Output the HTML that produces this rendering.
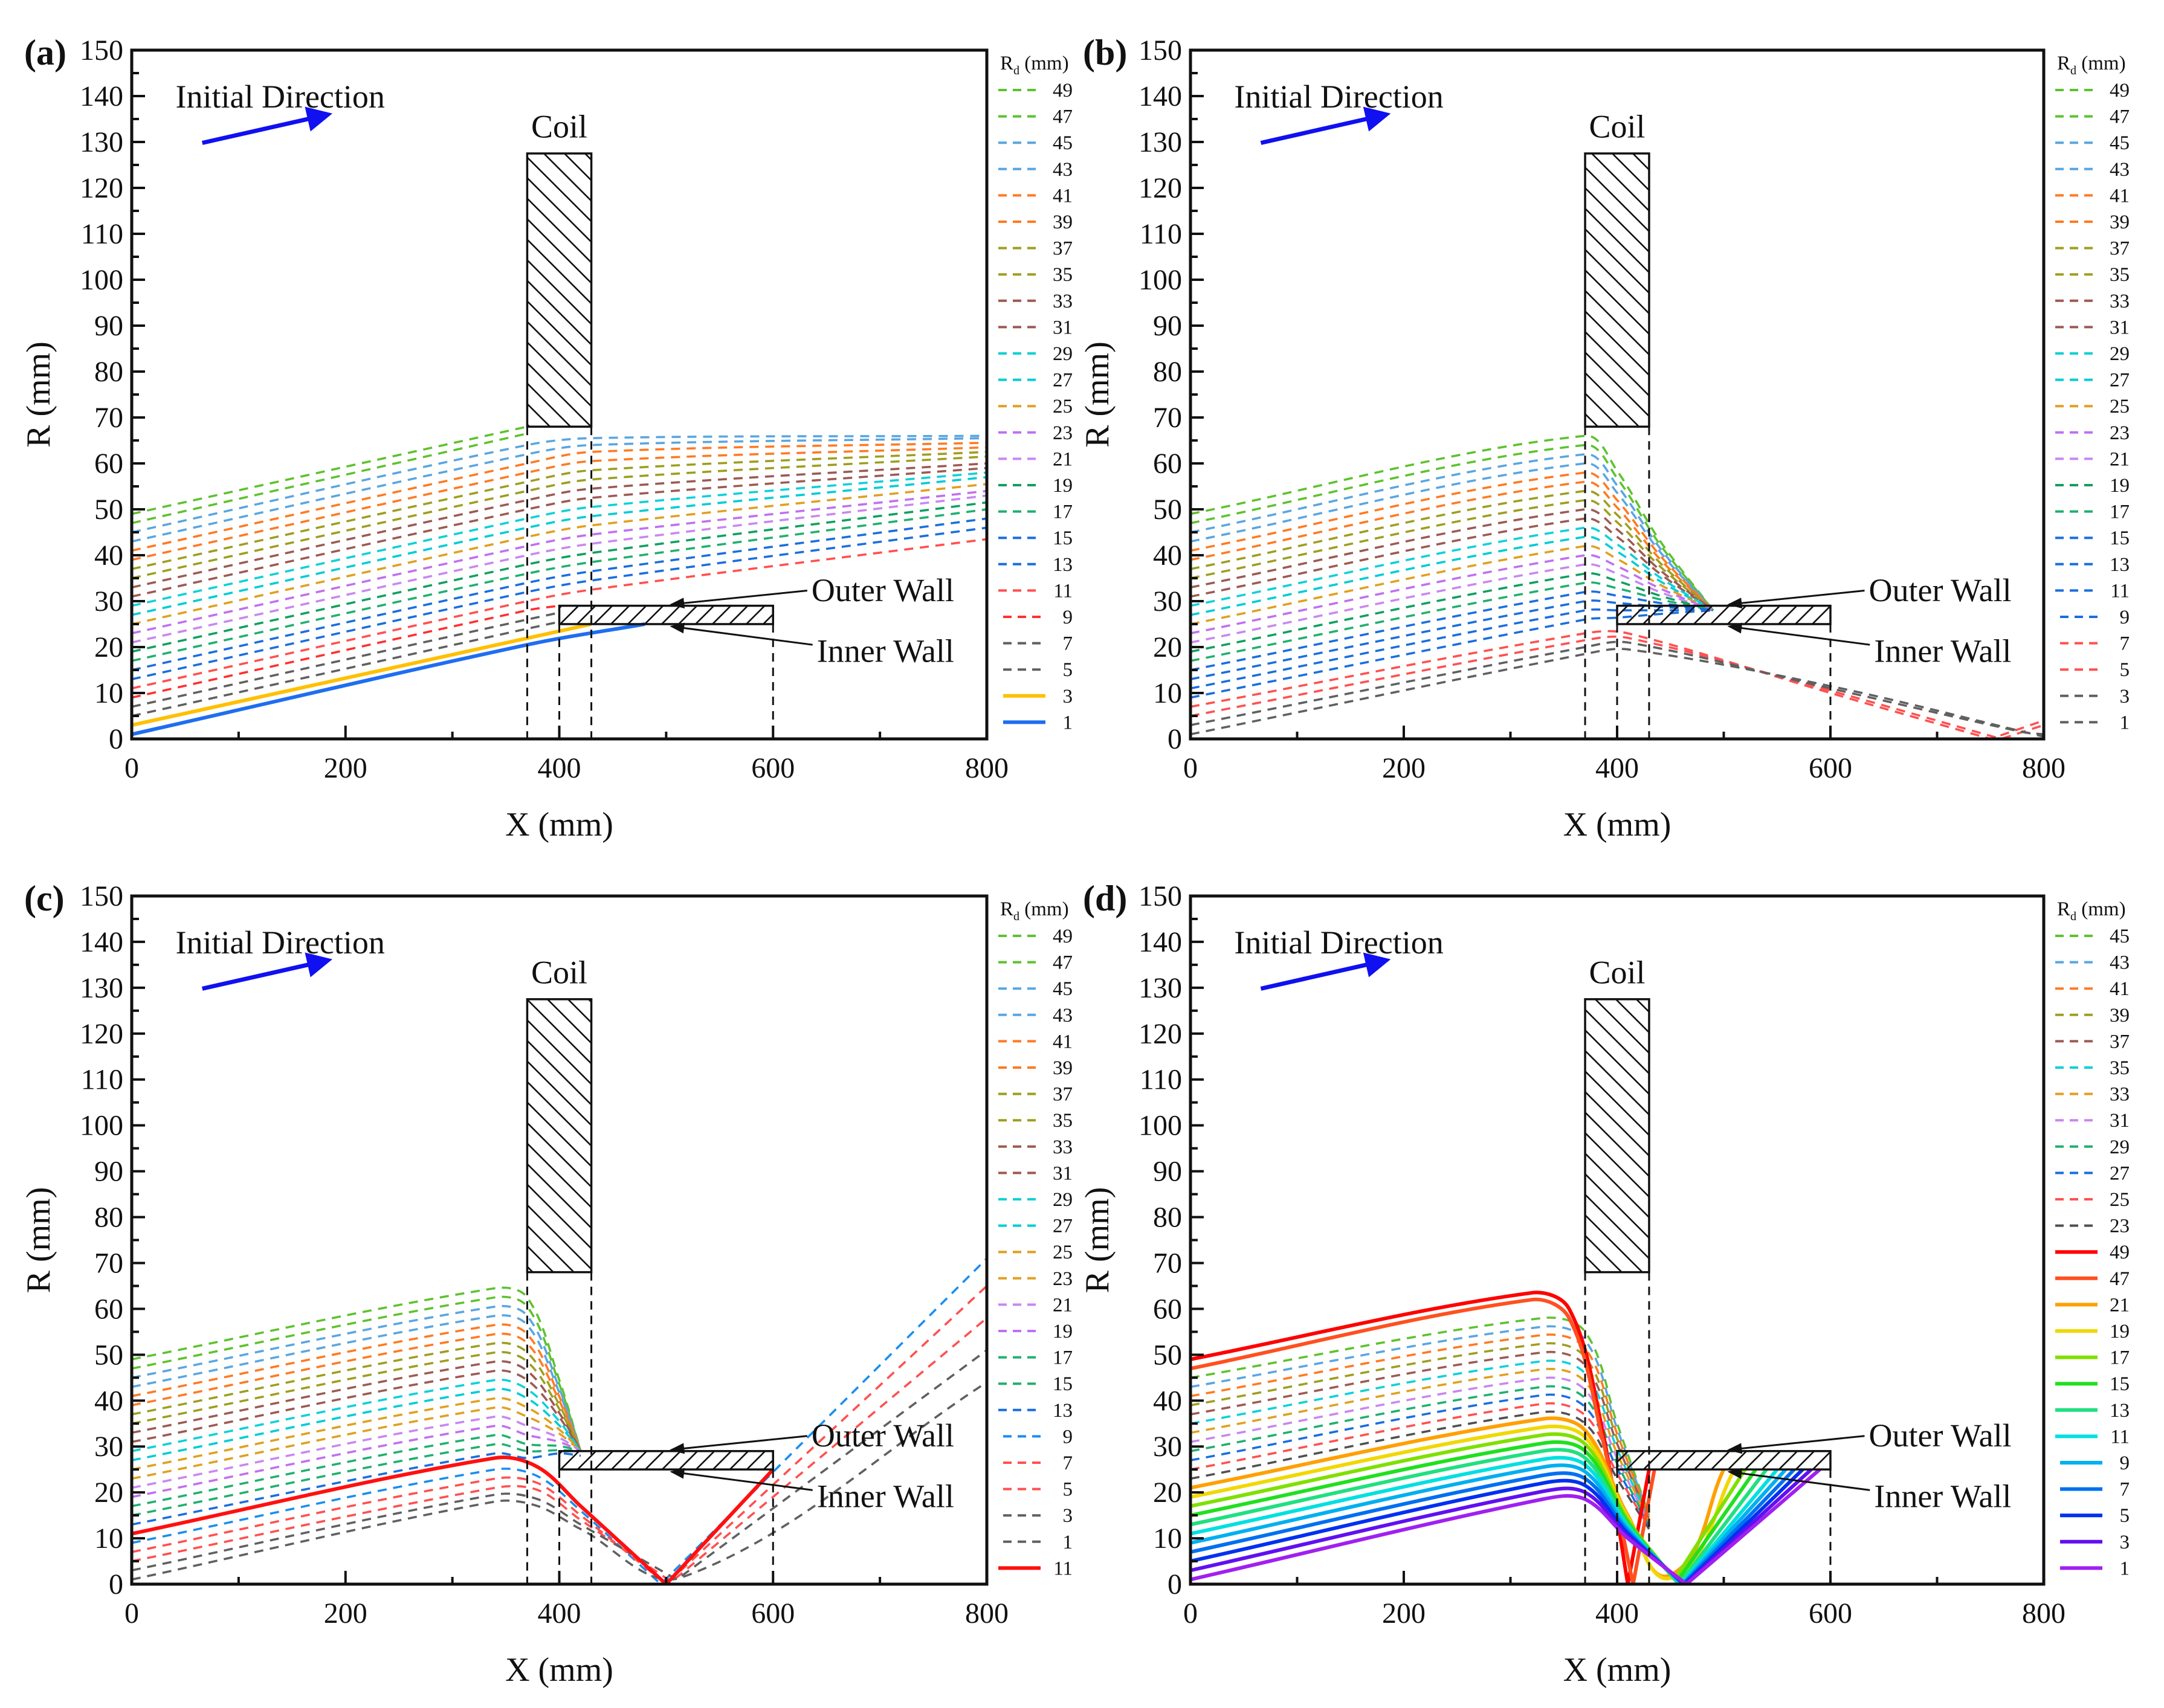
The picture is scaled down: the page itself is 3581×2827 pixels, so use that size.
<!DOCTYPE html>
<html><head><meta charset="utf-8"><style>
html,body{margin:0;padding:0;background:#fff}
svg{display:block}
svg text{font-family:"Liberation Serif","DejaVu Serif",serif;fill:#111}
</style></head><body>
<svg id="root" width="3581" height="2827" viewBox="0 0 3581 2827" xmlns="http://www.w3.org/2000/svg" font-family="Liberation Serif, DejaVu Serif, serif">
<defs>
<pattern id="hatchCoil" patternUnits="userSpaceOnUse" width="34" height="34"><path d="M-5,-5 L39,39 M-5,29 L5,39 M29,-5 L39,5" stroke="#111" stroke-width="2.6"/></pattern>
<pattern id="hatchWall" patternUnits="userSpaceOnUse" width="28" height="28"><path d="M-5,33 L33,-5 M-5,5 L5,-5 M23,33 L33,23" stroke="#111" stroke-width="2.6"/></pattern>
<marker id="ahBlue" markerWidth="6" markerHeight="6" refX="4" refY="3" orient="auto" markerUnits="strokeWidth"><path d="M0,0 L6,3 L0,6 Z" fill="#1010f0"/></marker>
<marker id="ahBlack" markerWidth="8" markerHeight="6" refX="7" refY="3" orient="auto" markerUnits="strokeWidth"><path d="M0,0 L8,3 L0,6 Z" fill="#111"/></marker>
</defs>
</svg>
<script>
// ---------- data ----------
const xTicks=[0,200,400,600,800];
const yTicks=[0,10,20,30,40,50,60,70,80,90,100,110,120,130,140,150];

const aRd=[49,47,45,43,41,39,37,35,33,31,29,27,25,23,21,19,17,15,13,11,9,7,5,3,1];
const aPts=[
[[0,49],[370,68]],
[[0,47],[370,66.5]],
[[0,45],[370,64],[430,65.5],[800,66]],
[[0,43],[370,62],[430,64],[800,65.5]],
[[0,41],[370,60],[430,62.5],[800,64.5]],
[[0,39],[370,58],[430,60.5],[800,63.5]],
[[0,37],[370,56],[430,58.5],[800,62.5]],
[[0,35],[370,54],[430,56.5],[800,61.5]],
[[0,33],[370,52],[430,54.5],[800,60]],
[[0,31],[370,50],[430,52.5],[800,59]],
[[0,29],[370,48],[430,50.5],[800,58]],
[[0,27],[370,46],[430,48.5],[800,57]],
[[0,25],[370,44],[430,46.5],[800,55.5]],
[[0,23],[370,42],[430,44.5],[800,54]],
[[0,21],[370,40],[430,42.5],[800,53]],
[[0,19],[370,38],[430,40.5],[800,51.5]],
[[0,17],[370,36],[430,38.5],[800,50]],
[[0,15],[370,34],[430,36.5],[800,48]],
[[0,13],[370,32],[430,34.5],[800,46]],
[[0,11],[370,30],[430,32.5],[800,43.5]],
[[0,9],[370,28],[400,29]],
[[0,7],[370,26],[400,27.5]],
[[0,5],[370,24],[400,25.5]],
[[0,3],[430,25]],
[[0,1],[370,20.5],[480,25]]
];
const aColors=["#5ec22e","#5ec22e","#5aa6e0","#5aa6e0","#ff7a22","#ff7a22","#9e9e20","#9e9e20","#9c5a54","#9c5a54","#10d0d8","#00ccd4","#e0a020","#c070f0","#c888f0","#10a060","#20b070","#1a6ee0","#1a6ee0","#ff5050","#ff3030","#606060","#606060","#ffc000","#1e6ef0"];
const aSolid=[0,0,0,0,0,0,0,0,0,0,0,0,0,0,0,0,0,0,0,0,0,0,0,1,1];

const bRd=[49,47,45,43,41,39,37,35,33,31,29,27,25,23,21,19,17,15,13,11,9,7,5,3,1];
const bPts=[
[[0,49],[370,66],[400,58.4],[440,43.2],[490,28]],
[[0,47],[370,64],[400,56.8],[440,42.4],[490,28]],
[[0,45],[370,62],[400,55.2],[440,41.6],[490,28]],
[[0,43],[370,60],[400,53.6],[440,40.8],[490,28]],
[[0,41],[370,58],[400,52],[440,40],[490,28]],
[[0,39],[370,56],[400,50.4],[440,39.2],[490,28]],
[[0,37],[370,54],[400,48.8],[440,38.4],[490,28]],
[[0,35],[370,52],[400,47.2],[440,37.6],[490,28]],
[[0,33],[370,50],[400,45.6],[440,36.8],[490,28]],
[[0,31],[370,48],[400,44],[440,36],[490,28]],
[[0,29],[370,46],[400,42.4],[440,35.2],[490,28]],
[[0,27],[370,44],[400,40.8],[440,34.4],[490,28]],
[[0,25],[370,42],[400,39.2],[440,33.6],[490,28]],
[[0,23],[370,40],[400,37.6],[440,32.8],[490,28]],
[[0,21],[370,38],[400,36],[440,32],[490,28]],
[[0,19],[370,36],[400,34.4],[440,31.2],[490,28]],
[[0,17],[370,34],[400,32.8],[440,30.4],[490,28]],
[[0,15],[370,32],[400,31.2],[440,29.6],[490,28]],
[[0,13],[370,30],[400,29.6],[440,28.8],[490,28]],
[[0,11],[370,28],[400,28],[440,28],[490,28]],
[[0,9],[370,26],[400,26.4],[440,27.2],[490,28]],
[[0,7],[370,23],[410,23],[600,10],[750,0],[800,4]],
[[0,5],[370,21.5],[410,22],[600,10.5],[760,0],[800,3]],
[[0,3],[370,20],[410,21],[600,11],[780,1.5],[800,1]],
[[0,1],[370,18.5],[410,19.5],[600,11.5],[800,0.5]]
];
const bColors=["#5ec22e","#5ec22e","#5aa6e0","#5aa6e0","#ff7a22","#ff7a22","#9e9e20","#9e9e20","#9c5a54","#9c5a54","#10d0d8","#00ccd4","#e0a020","#c070f0","#c888f0","#10a060","#20b070","#1a6ee0","#1a6ee0","#1a6ee0","#1a6ee0","#ff5050","#ff5050","#606060","#606060"];
const bSolid=new Array(25).fill(0);

const cRd=[49,47,45,43,41,39,37,35,33,31,29,27,25,23,21,19,17,15,13,9,7,5,3,1,11];
const cPts=[
[[0,49],[340,64.5],[370,62.5],[400,44.5],[420,29]],
[[0,47],[340,62.5],[370,60.5],[400,43.6],[420,29]],
[[0,45],[340,60.5],[370,58.5],[400,42.7],[420,29]],
[[0,43],[340,58.5],[370,56.5],[400,41.8],[420,29]],
[[0,41],[340,56.5],[370,54.5],[400,40.9],[420,29]],
[[0,39],[340,54.5],[370,52.5],[400,40],[420,29]],
[[0,37],[340,52.5],[370,50.5],[400,39.1],[420,29]],
[[0,35],[340,50.5],[370,48.5],[400,38.2],[420,29]],
[[0,33],[340,48.5],[370,46.5],[400,37.3],[420,29]],
[[0,31],[340,46.5],[370,44.5],[400,36.4],[420,29]],
[[0,29],[340,44.5],[370,42.5],[400,35.5],[420,29]],
[[0,27],[340,42.5],[370,40.5],[400,34.6],[420,29]],
[[0,25],[340,40.5],[370,38.5],[400,33.7],[420,29]],
[[0,23],[340,38.5],[370,36.5],[400,32.8],[420,29]],
[[0,21],[340,36.5],[370,34.5],[400,31.9],[420,29]],
[[0,19],[340,34.5],[370,32.5],[400,31],[420,29]],
[[0,17],[340,32.5],[370,30.5],[400,30.1],[420,29]],
[[0,15],[340,30.5],[370,29],[400,29.2],[420,29]],
[[0,13],[340,28.5],[370,27.5],[400,28.5],[420,28]],
[[0,9],[340,25],[380,23.5],[420,16],[495,0],[800,71]],
[[0,7],[340,23],[380,22],[420,15],[500,0],[800,65]],
[[0,5],[340,21],[380,20.5],[420,14],[505,0.5],[800,58]],
[[0,3],[340,19.5],[380,18.5],[420,13],[510,1],[800,51]],
[[0,1],[340,18],[380,17],[420,12],[515,1.5],[800,44]],
[[0,11],[340,27.5],[380,25.5],[420,17],[500,0],[600,25]]
];
const cColors=["#5ec22e","#5ec22e","#5aa6e0","#5aa6e0","#ff7a22","#ff7a22","#9e9e20","#9e9e20","#9c5a54","#9c5a54","#10d0d8","#00ccd4","#e0a020","#e0a020","#c888f0","#c070f0","#20b070","#20b070","#1a6ee0","#1a8ef0","#ff5050","#ff5050","#606060","#606060","#ff1010"];
const cSolid=[0,0,0,0,0,0,0,0,0,0,0,0,0,0,0,0,0,0,0,0,0,0,0,0,1];

const dRd=[45,43,41,39,37,35,33,31,29,27,25,23,49,47,21,19,17,15,13,11,9,7,5,3,1];
const dPts=[
[[0,45],[330,58],[370,55],[400,35],[430,15]],
[[0,43],[330,56.1],[370,53.2],[400,33.9],[430,14.7]],
[[0,41],[330,54.3],[370,51.4],[400,32.8],[430,14.5]],
[[0,39],[330,52.4],[370,49.5],[400,31.7],[430,14.2]],
[[0,37],[330,50.5],[370,47.7],[400,30.6],[430,13.9]],
[[0,35],[330,48.6],[370,45.9],[400,29.5],[430,13.6]],
[[0,33],[330,46.8],[370,44.1],[400,28.5],[430,13.4]],
[[0,31],[330,44.9],[370,42.3],[400,27.4],[430,13.1]],
[[0,29],[330,43],[370,40.5],[400,26.3],[430,12.8]],
[[0,27],[330,41.2],[370,38.6],[400,25.2],[430,12.5]],
[[0,25],[330,39.3],[370,36.8],[400,24.1],[430,12.3]],
[[0,23],[330,37.5],[370,35],[400,23],[430,12]],
[[0,49],[320,63.5],[355,60],[385,35],[410,0],[430,25]],
[[0,47],[320,62],[355,58],[385,33],[415,0],[435,25]],
[[0,21],[330,36],[370,33.5],[410,15],[450,2],[500,25]],
[[0,19],[330,34.2],[370,32],[410,14.5],[452,1.5],[510,25]],
[[0,17],[330,32.5],[370,30.5],[410,14],[454,1],[520,25]],
[[0,15],[330,30.7],[370,29],[410,13.5],[456,0.5],[530,25]],
[[0,13],[330,29],[370,27.5],[410,13],[458,0],[540,25]],
[[0,11],[330,27.2],[370,26],[410,12.5],[460,0],[550,25]],
[[0,9],[330,25.5],[370,24.5],[410,12],[461,0],[558,25]],
[[0,7],[330,23.7],[370,23],[410,11.5],[462,0],[566,25]],
[[0,5],[330,22],[370,21.5],[410,11],[463,0],[574,25]],
[[0,3],[330,20.2],[370,20],[410,10.5],[464,0],[582,25]],
[[0,1],[330,18.5],[370,18.5],[410,10],[465,0],[590,25]]
];
const dColors=["#5ec22e","#5aa6e0","#ff7a22","#9e9e20","#9c5a54","#10d0d8","#e0a020","#c888f0","#20b070","#1a6ee0","#ff5050","#505050","#ff0000","#ff5020","#ffa000","#f0d800","#80e000","#20e020","#20e080","#00e0e0","#00b0f0","#0070f0","#0030f0","#6010f0","#a020f0"];
const dSolid=[0,0,0,0,0,0,0,0,0,0,0,0,1,1,1,1,1,1,1,1,1,1,1,1,1];

// ---------- rendering ----------
const NS="http://www.w3.org/2000/svg";
const root=document.getElementById('root');
const FONT="Liberation Serif, DejaVu Serif, serif";
function mk(tag,attrs,parent){const e=document.createElementNS(NS,tag);for(const k in attrs)e.setAttribute(k,attrs[k]);if(tag==='text')e.setAttribute('font-family',FONT);(parent||root).appendChild(e);return e;}

// smooth path: tangent direction from neighbours, handle length = 1/3 of segment; sharp at bounce points
function smoothPath(P,vals){
  const n=P.length;
  const dirs=P.map((p,i)=>{
    if(i===0||i===n-1||vals[i]<=1) return null;
    const dx=P[i+1][0]-P[i-1][0],dy=P[i+1][1]-P[i-1][1];const L=Math.hypot(dx,dy)||1;return [dx/L,dy/L];
  });
  let d='M'+P[0][0].toFixed(1)+','+P[0][1].toFixed(1);
  for(let i=0;i<n-1;i++){
    const p1=P[i],p2=P[i+1];
    const sl=Math.hypot(p2[0]-p1[0],p2[1]-p1[1])/3;
    const u=[(p2[0]-p1[0])/(3*sl||1),(p2[1]-p1[1])/(3*sl||1)];
    const d1=dirs[i]||u,d2=dirs[i+1]||u;
    const c1=[p1[0]+d1[0]*sl,p1[1]+d1[1]*sl];
    const c2=[p2[0]-d2[0]*sl,p2[1]-d2[1]*sl];
    d+=' C'+c1[0].toFixed(1)+','+c1[1].toFixed(1)+' '+c2[0].toFixed(1)+','+c2[1].toFixed(1)+' '+p2[0].toFixed(1)+','+p2[1].toFixed(1);
  }
  return d;
}

function drawPanel(id,letter,G,rds,pts,colors,solid){
  const g=mk('g',{});
  
  
  const sx=x=>G.l+x/800*(G.r-G.l);
  const sy=v=>G.b-v/150*(G.b-G.t);
  const cp=mk('clipPath',{id:'clip'+id},g);
  mk('rect',{x:G.l,y:G.t,width:G.r-G.l,height:G.b-G.t},cp);
  const cg=mk('g',{'clip-path':'url(#clip'+id+')'},g);
  for(let i=0;i<pts.length;i++){
    const P=pts[i].map(p=>[sx(p[0]),sy(p[1])]);
    const d=smoothPath(P,pts[i].map(p=>p[1]));
    const p=mk('path',{d:d,fill:'none',stroke:colors[i],'stroke-width':solid[i]?6:3.6,'stroke-dasharray':solid[i]?'none':'15 11','stroke-linejoin':'round'},cg);
    
    
  }
  const coil=mk('rect',{x:sx(370),y:sy(127.5),width:sx(430)-sx(370),height:sy(68)-sy(127.5),fill:'url(#hatchCoil)',stroke:'#111','stroke-width':3.5},g);
  
  
  const wall=mk('rect',{x:sx(400),y:sy(29),width:sx(600)-sx(400),height:sy(25)-sy(29),fill:'url(#hatchWall)',stroke:'#111','stroke-width':3.5},g);
  
  
  const vl=[[370,68],[430,68],[400,25],[600,25]];
  vl.forEach(v=>{const l=mk('line',{x1:sx(v[0]),y1:sy(v[1]),x2:sx(v[0]),y2:G.b,stroke:'#111','stroke-width':3,'stroke-dasharray':'14 10'},g);
    
    });
  const fr=mk('rect',{x:G.l,y:G.t,width:G.r-G.l,height:G.b-G.t,fill:'none',stroke:'#111','stroke-width':5},g);
  
  
  for(let v=0;v<=150;v+=5){const y=sy(v);const len=v%10===0?22:12;mk('line',{x1:G.l,y1:y,x2:G.l+len,y2:y,stroke:'#111','stroke-width':4},g);}
  for(let v=0;v<=800;v+=100){const x=sx(v);const len=v%200===0?22:12;mk('line',{x1:x,y1:G.b,x2:x,y2:G.b-len,stroke:'#111','stroke-width':4},g);}
  yTicks.forEach(v=>{const t=mk('text',{x:G.l-14,y:sy(v)+16,'text-anchor':'end','font-size':48},g);t.textContent=v;
    
    });
  xTicks.forEach(v=>{const t=mk('text',{x:sx(v),y:G.b+64,'text-anchor':'middle','font-size':48},g);t.textContent=v;
    
    });
  const xt=mk('text',{x:(G.l+G.r)/2,y:G.b+160,'text-anchor':'middle','font-size':56},g);xt.textContent='X (mm)';
  
  
  const cy=(G.t+G.b)/2;
  const yt=mk('text',{x:G.l-136,y:cy,'text-anchor':'middle','font-size':56,transform:'rotate(-90 '+(G.l-136)+' '+cy+')'},g);yt.textContent='R (mm)';
  
  
  const pl=mk('text',{x:G.l-178,y:G.t+24,'font-size':60,'font-weight':'bold'},g);pl.textContent='('+letter+')';
  
  
  const id1=mk('text',{x:sx(41),y:sy(137.5),'font-size':54},g);id1.textContent='Initial Direction';
  
  
  const ar=mk('line',{x1:sx(66),y1:sy(129.8),x2:sx(180),y2:sy(135.8),stroke:'#1010f0','stroke-width':7,'marker-end':'url(#ahBlue)'},g);
  
  
  const cl=mk('text',{x:sx(400),y:sy(131),'text-anchor':'middle','font-size':54},g);cl.textContent='Coil';
  
  
  const ow=mk('text',{x:sx(636),y:sy(30),'font-size':54},g);ow.textContent='Outer Wall';
  
  
  mk('line',{x1:sx(632),y1:sy(32.3),x2:sx(505),y2:sy(29.3),stroke:'#111','stroke-width':3,'marker-end':'url(#ahBlack)'},g);
  const iw=mk('text',{x:sx(641),y:sy(16.8),'font-size':54},g);iw.textContent='Inner Wall';
  
  
  mk('line',{x1:sx(637),y1:sy(20.5),x2:sx(505),y2:sy(24.5),stroke:'#111','stroke-width':3,'marker-end':'url(#ahBlack)'},g);
  const lg=mk('g',{},g);
  
  
  const tt=mk('text',{x:G.r+22,y:G.t+32,'font-size':33},lg);
  tt.innerHTML='R<tspan font-size="20" dy="8">d</tspan><tspan dy="-8"> (mm)</tspan>';
  for(let i=0;i<rds.length;i++){
    const y=G.t+66+i*43.6;
    const one=rds[i]<10;
    const ln=mk('line',{x1:G.r+19+(one?8:0),y1:y,x2:G.r+89+(one?8:0),y2:y,stroke:colors[i],'stroke-width':solid[i]?6:4,'stroke-dasharray':solid[i]?'none':'14 10'},lg);
    
    
    const t=mk('text',{x:G.r+142,y:y+11,'text-anchor':'end','font-size':33},lg);t.textContent=rds[i];
    
    
  }
}
drawPanel('a','a',{l:218,t:83,r:1633,b:1223},aRd,aPts,aColors,aSolid);
drawPanel('b','b',{l:1970,t:83,r:3382,b:1223},bRd,bPts,bColors,bSolid);
drawPanel('c','c',{l:218,t:1483,r:1633,b:2622},cRd,cPts,cColors,cSolid);
drawPanel('d','d',{l:1970,t:1483,r:3382,b:2622},dRd,dPts,dColors,dSolid);
</script>
</body></html>
